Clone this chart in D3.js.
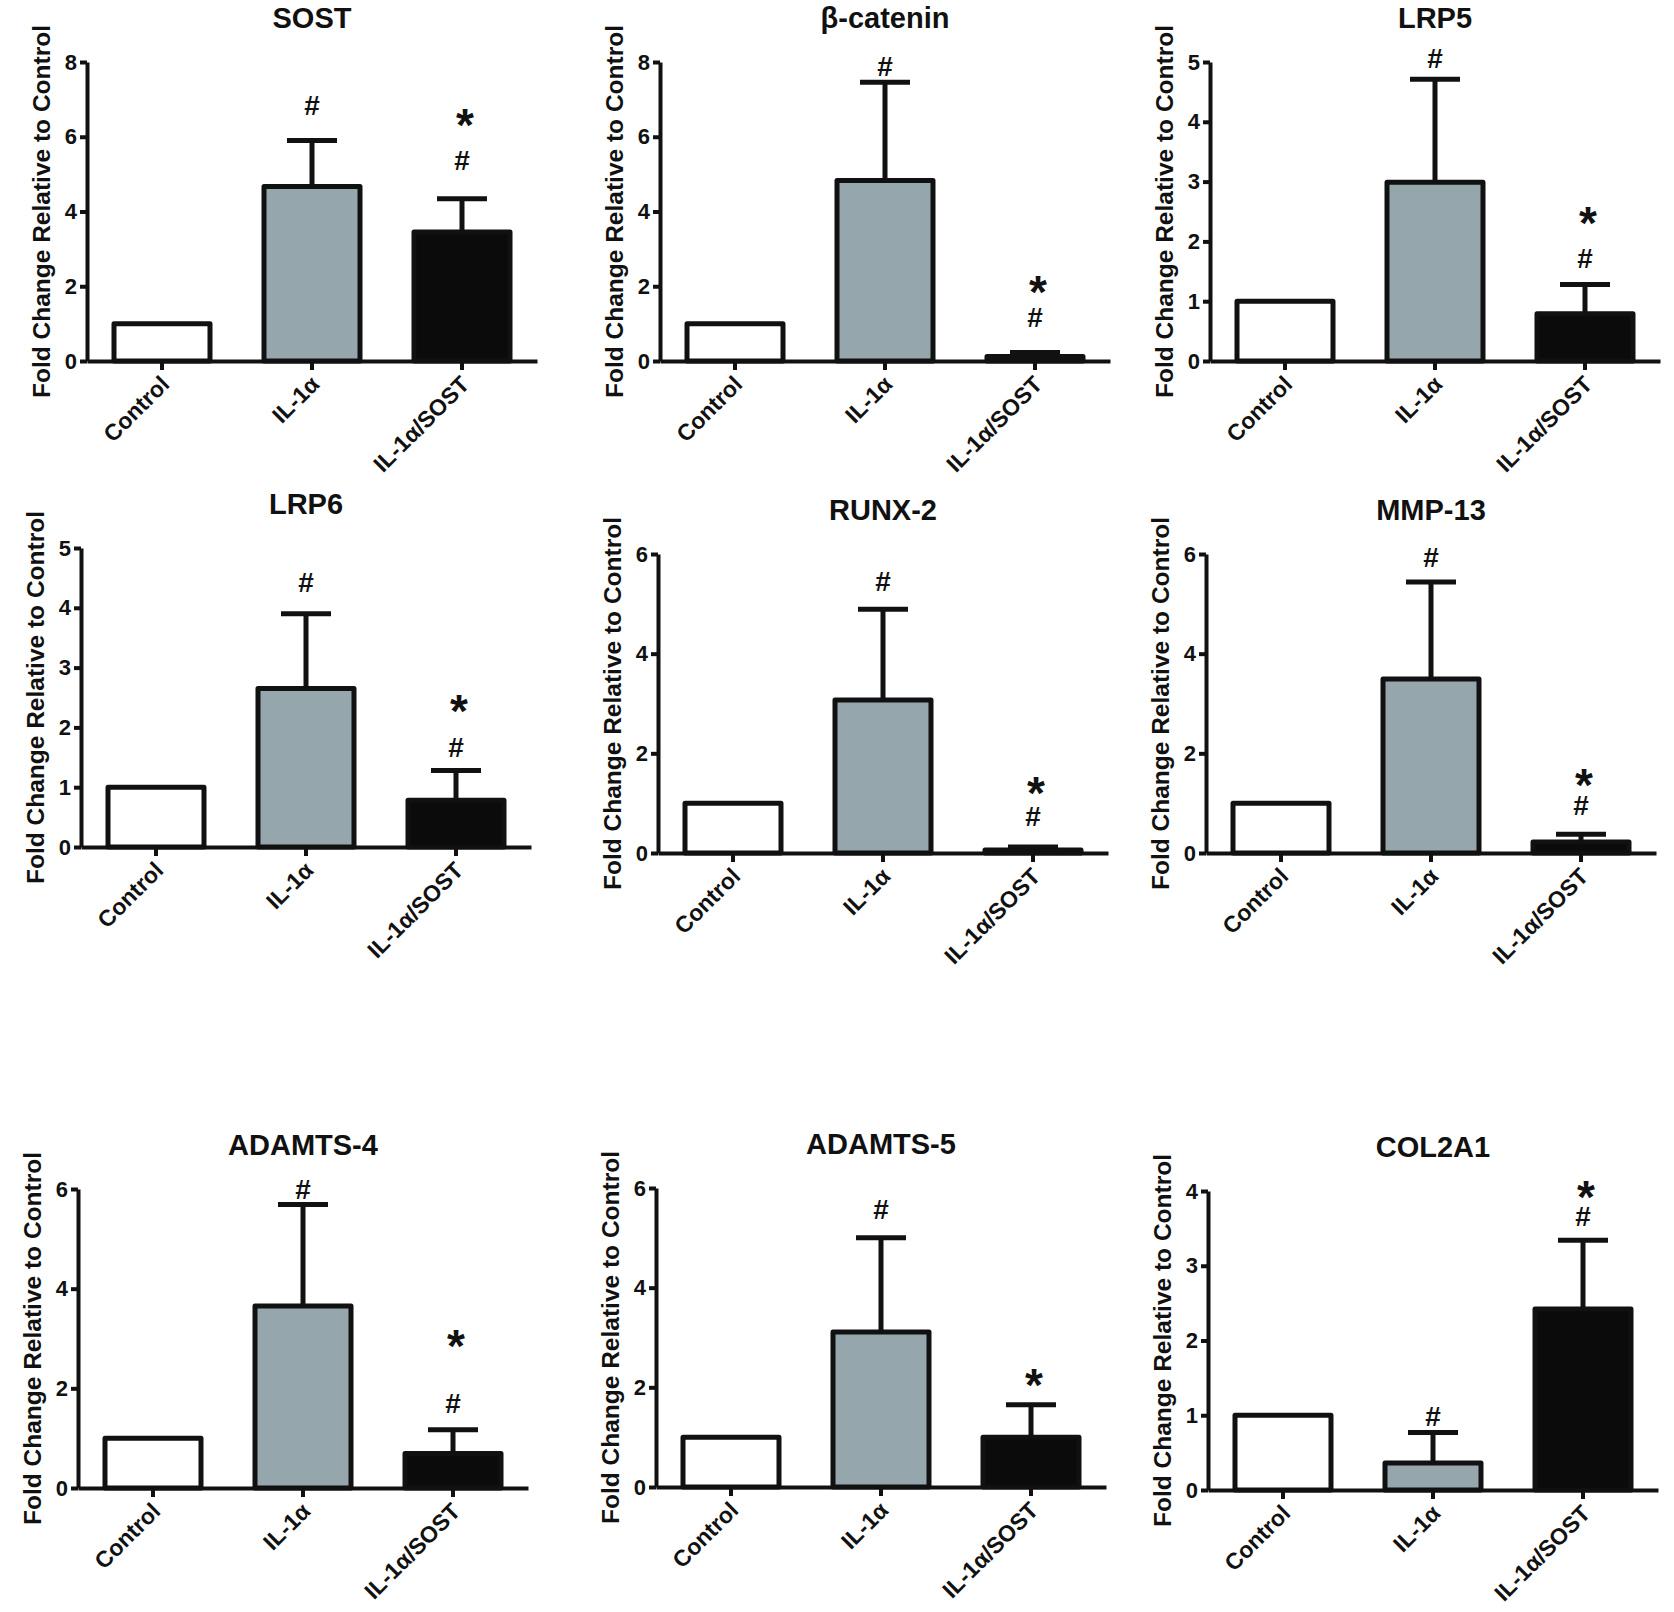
<!DOCTYPE html>
<html>
<head>
<meta charset="utf-8">
<script src="https://cdn.jsdelivr.net/npm/d3@7"></script>
<style>
  body { margin: 0; background: #fff; }
  svg { display: block; font-family: 'Liberation Sans', Arial, sans-serif; font-weight: bold; }
</style>
</head>
<body>
<svg id="figure" width="1674" height="1612"></svg>
<script>
const GROUPS = ['Control', 'IL-1α', 'IL-1α/SOST'];

const GENES = ['SOST', 'β-catenin', 'LRP5', 'LRP6', 'RUNX-2', 'MMP-13', 'ADAMTS-4', 'ADAMTS-5', 'COL2A1'];

// y axis top value and tick step, one per gene
const Y_MAX = [8, 8, 5, 5, 6, 6, 6, 6, 4];
const Y_STEP = [2, 2, 1, 1, 2, 2, 2, 2, 1];

// fold change (mean) per group
const MEANS = [
  [1.0, 4.67, 3.45],
  [1.0, 4.83, 0.12],
  [1.0, 2.99, 0.79],
  [1.0, 2.65, 0.78],
  [1.0, 3.07, 0.06],
  [1.0, 3.49, 0.22],
  [1.0, 3.65, 0.69],
  [1.0, 3.11, 1.0],
  [1.0, 0.36, 2.42],
];

// upper error bar length (0 = no bar)
const SEMS = [
  [0, 1.23, 0.89],
  [0, 2.63, 0.11],
  [0, 1.72, 0.49],
  [0, 1.25, 0.50],
  [0, 1.82, 0.06],
  [0, 1.95, 0.155],
  [0, 2.04, 0.48],
  [0, 1.89, 0.65],
  [0, 0.41, 0.92],
];

// significance marks, value level of the symbol centre (null = none)
const HASH_AT = [
  [null, 6.84, 5.37],
  [null, 7.9, 1.17],
  [null, 5.06, 1.72],
  [null, 4.42, 1.67],
  [null, 5.46, 0.73],
  [null, 5.94, 0.96],
  [null, 5.99, 1.71],
  [null, 5.57, null],
  [null, 0.99, 3.66],
];
const STAR_AT = [
  [null, null, 6.57],
  [null, null, 2.1],
  [null, null, 2.47],
  [null, null, 2.44],
  [null, null, 1.4],
  [null, null, 1.56],
  [null, null, 3.04],
  [null, null, 2.25],
  [null, null, 4.05],
];

// layout: y axis x position and top tick y position of each panel
const PANEL_POS = [
  [87, 62], [660, 62], [1210, 62],
  [81, 548], [658, 554], [1206, 554],
  [78, 1189], [656, 1188], [1208, 1191],
];
const PLOT_W = 450;
const PLOT_H = 299;
const BAR_FILLS = ['#ffffff', '#96a6ad', '#0b0b0b'];
const INK = '#111';
const LINE_W = 5;
const CAP_W = 50;

const svg = d3.select('#figure');

const x = d3.scaleBand()
  .domain(GROUPS)
  .range([0, PLOT_W])
  .paddingInner(0.36)
  .paddingOuter(0.18);

GENES.forEach((gene, i) => {
  const [px, py] = PANEL_POS[i];
  const y = d3.scaleLinear().domain([0, Y_MAX[i]]).range([PLOT_H, 0]);
  const rows = GROUPS.map((g, j) => ({
    group: g,
    mean: MEANS[i][j],
    sem: SEMS[i][j],
    hash: HASH_AT[i][j],
    star: STAR_AT[i][j],
    fill: BAR_FILLS[j],
  }));

  const panel = svg.append('g').attr('transform', `translate(${px}, ${py})`);

  // title
  panel.append('text')
    .attr('x', PLOT_W / 2)
    .attr('y', -44)
    .attr('dy', '0.36em')
    .attr('text-anchor', 'middle')
    .attr('font-size', 29)
    .attr('fill', INK)
    .text(gene);

  // y axis title
  panel.append('text')
    .attr('transform', `translate(-46, ${PLOT_H / 2}) rotate(-90)`)
    .attr('dy', '0.35em')
    .attr('text-anchor', 'middle')
    .attr('font-size', 24.5)
    .attr('fill', INK)
    .text('Fold Change Relative to Control');

  // bars
  panel.append('g')
    .selectAll('rect')
    .data(rows)
    .join('rect')
    .attr('x', d => x(d.group))
    .attr('y', d => y(d.mean))
    .attr('width', x.bandwidth())
    .attr('height', d => y(0) - y(d.mean))
    .attr('fill', d => d.fill)
    .attr('stroke', INK)
    .attr('stroke-width', LINE_W)
    .attr('stroke-linejoin', 'round');

  // error bars (upper only)
  const err = panel.append('g')
    .selectAll('g')
    .data(rows.filter(d => d.sem > 0))
    .join('g')
    .attr('stroke', INK)
    .attr('stroke-width', LINE_W);
  err.append('line')
    .attr('x1', d => x(d.group) + x.bandwidth() / 2)
    .attr('x2', d => x(d.group) + x.bandwidth() / 2)
    .attr('y1', d => y(d.mean))
    .attr('y2', d => y(d.mean + d.sem));
  err.append('line')
    .attr('x1', d => x(d.group) + x.bandwidth() / 2 - CAP_W / 2)
    .attr('x2', d => x(d.group) + x.bandwidth() / 2 + CAP_W / 2)
    .attr('y1', d => y(d.mean + d.sem))
    .attr('y2', d => y(d.mean + d.sem));

  // significance marks
  panel.append('g')
    .selectAll('text')
    .data(rows.filter(d => d.hash !== null))
    .join('text')
    .attr('x', d => x(d.group) + x.bandwidth() / 2)
    .attr('y', d => y(d.hash))
    .attr('dy', '0.35em')
    .attr('text-anchor', 'middle')
    .attr('font-size', 28)
    .attr('fill', INK)
    .text('#');
  panel.append('g')
    .selectAll('text')
    .data(rows.filter(d => d.star !== null))
    .join('text')
    .attr('x', d => x(d.group) + x.bandwidth() / 2 + 3)
    .attr('y', d => y(d.star))
    .attr('dy', '0.56em')
    .attr('text-anchor', 'middle')
    .attr('font-size', 46)
    .attr('fill', INK)
    .text('*');

  // axes
  panel.append('g')
    .call(d3.axisLeft(y)
      .tickValues(d3.range(0, Y_MAX[i] + 0.001, Y_STEP[i]))
      .tickFormat(d3.format('d'))
      .tickSizeInner(7)
      .tickSizeOuter(0)
      .tickPadding(3))
    .call(g => g.attr('font-size', null).attr('font-family', null))
    .call(g => g.select('.domain').attr('stroke', INK).attr('stroke-width', 4))
    .call(g => g.selectAll('.tick line').attr('stroke', INK).attr('stroke-width', 4))
    .call(g => g.selectAll('.tick text').attr('font-size', 22).attr('fill', INK));

  panel.append('g')
    .attr('transform', `translate(0, ${PLOT_H})`)
    .call(d3.axisBottom(x).tickSizeInner(9).tickSizeOuter(0))
    .call(g => g.attr('font-size', null).attr('font-family', null))
    .call(g => g.select('.domain').attr('stroke', INK).attr('stroke-width', 4))
    .call(g => g.selectAll('.tick line').attr('stroke', INK).attr('stroke-width', 4))
    .call(g => g.selectAll('.tick text')
      .attr('y', null)
      .attr('dy', '0.35em')
      .attr('text-anchor', 'end')
      .attr('transform', 'translate(3, 19) rotate(-45)')
      .attr('font-size', 23)
      .attr('fill', INK));
});
</script>
</body>
</html>
